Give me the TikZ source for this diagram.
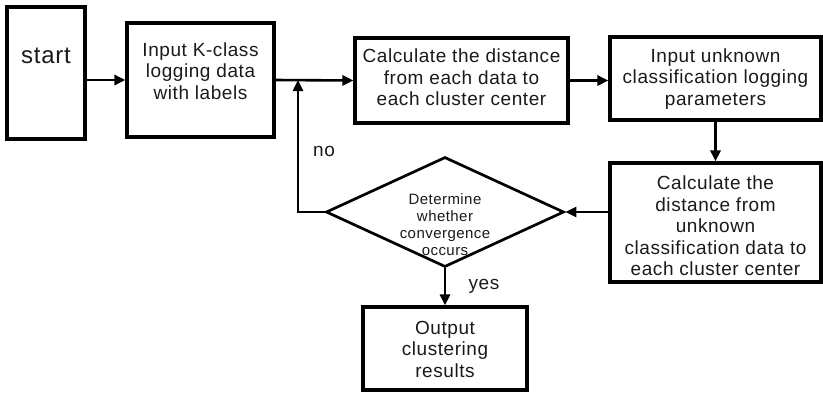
\documentclass[tikz,border=0pt]{standalone}
\usepackage{fontspec}
\setmainfont{Liberation Sans}[LetterSpace=3]
\usetikzlibrary{shapes.geometric,arrows.meta}
\definecolor{ink}{HTML}{1A1A1A}
\tikzset{
  box/.style={draw=black, line width=3.1pt, rectangle, inner sep=0pt},
  dia/.style={draw=black, line width=2.7pt, diamond, inner sep=0pt},
  txt/.style={text=ink, align=center, font=\fontsize{19}{21.5}\selectfont, inner sep=0pt},
  smalltxt/.style={text=ink, align=center, font=\fontsize{15}{17}\selectfont, inner sep=0pt},
  bigtxt/.style={text=ink, font=\fontsize{24}{28}\selectfont, inner sep=0pt},
  arr/.style={draw=black, line width=2.6pt, -{Triangle[length=11pt,width=10pt]}},
  ln/.style={draw=black, line width=2.6pt}
}
\begin{document}
\begin{tikzpicture}[x=1pt,y=-1pt]
\useasboundingbox (0,0) rectangle (823,392);
% boxes
\node[box, minimum width=78pt, minimum height=132pt] (start) at (46,73) {};
\node[box, minimum width=147pt, minimum height=114pt] (inK) at (200.5,80) {};
\node[box, minimum width=213pt, minimum height=85pt] (calc1) at (461.5,80.5) {};
\node[box, minimum width=211pt, minimum height=83pt] (unk) at (715.5,78.5) {};
\node[box, minimum width=211pt, minimum height=119pt] (calc2) at (715.5,222.5) {};
\node[dia, minimum width=238pt, minimum height=110pt] (dec) at (445,212) {};
\node[box, minimum width=164pt, minimum height=83pt] (out) at (445,348.5) {};
% texts
\node[bigtxt] (tstart) at (46,56) {start};
\node[txt] (tinK) at (200.5,71) {Input K-class\\logging data\\with labels};
\node[txt] (tcalc1) at (461.5,77.5) {Calculate the distance\\from each data to\\each cluster center};
\node[txt] (tunk) at (715.5,79) {Input unknown\\classification logging\\parameters};
\node[txt] (tcalc2) at (715.5,226) {Calculate the\\distance from\\unknown\\classification data to\\each cluster center};
\node[smalltxt] (tdec) at (445,225) {Determine\\whether\\convergence\\occurs};
\node[txt] (tout) at (445,349) {Output\\clustering\\results};
\node[txt] (tno) at (324,151) {no};
\node[txt] (tyes) at (484,286) {yes};
% connectors
\coordinate (j) at (298,80);
\draw[arr] (start.east |- inK.west) -- (inK.west);
\draw[arr] (inK.east) -- (calc1.west);
\draw[arr] (calc1.east) -- (calc1.east -| unk.west);
\draw[arr] (unk.south) -- (calc2.north);
\draw[arr] (calc2.west |- dec.east) -- (dec.east);
\draw[arr] (dec.south) -- (out.north);
\draw[arr] (dec.west) -| (j);
\end{tikzpicture}
\end{document}
